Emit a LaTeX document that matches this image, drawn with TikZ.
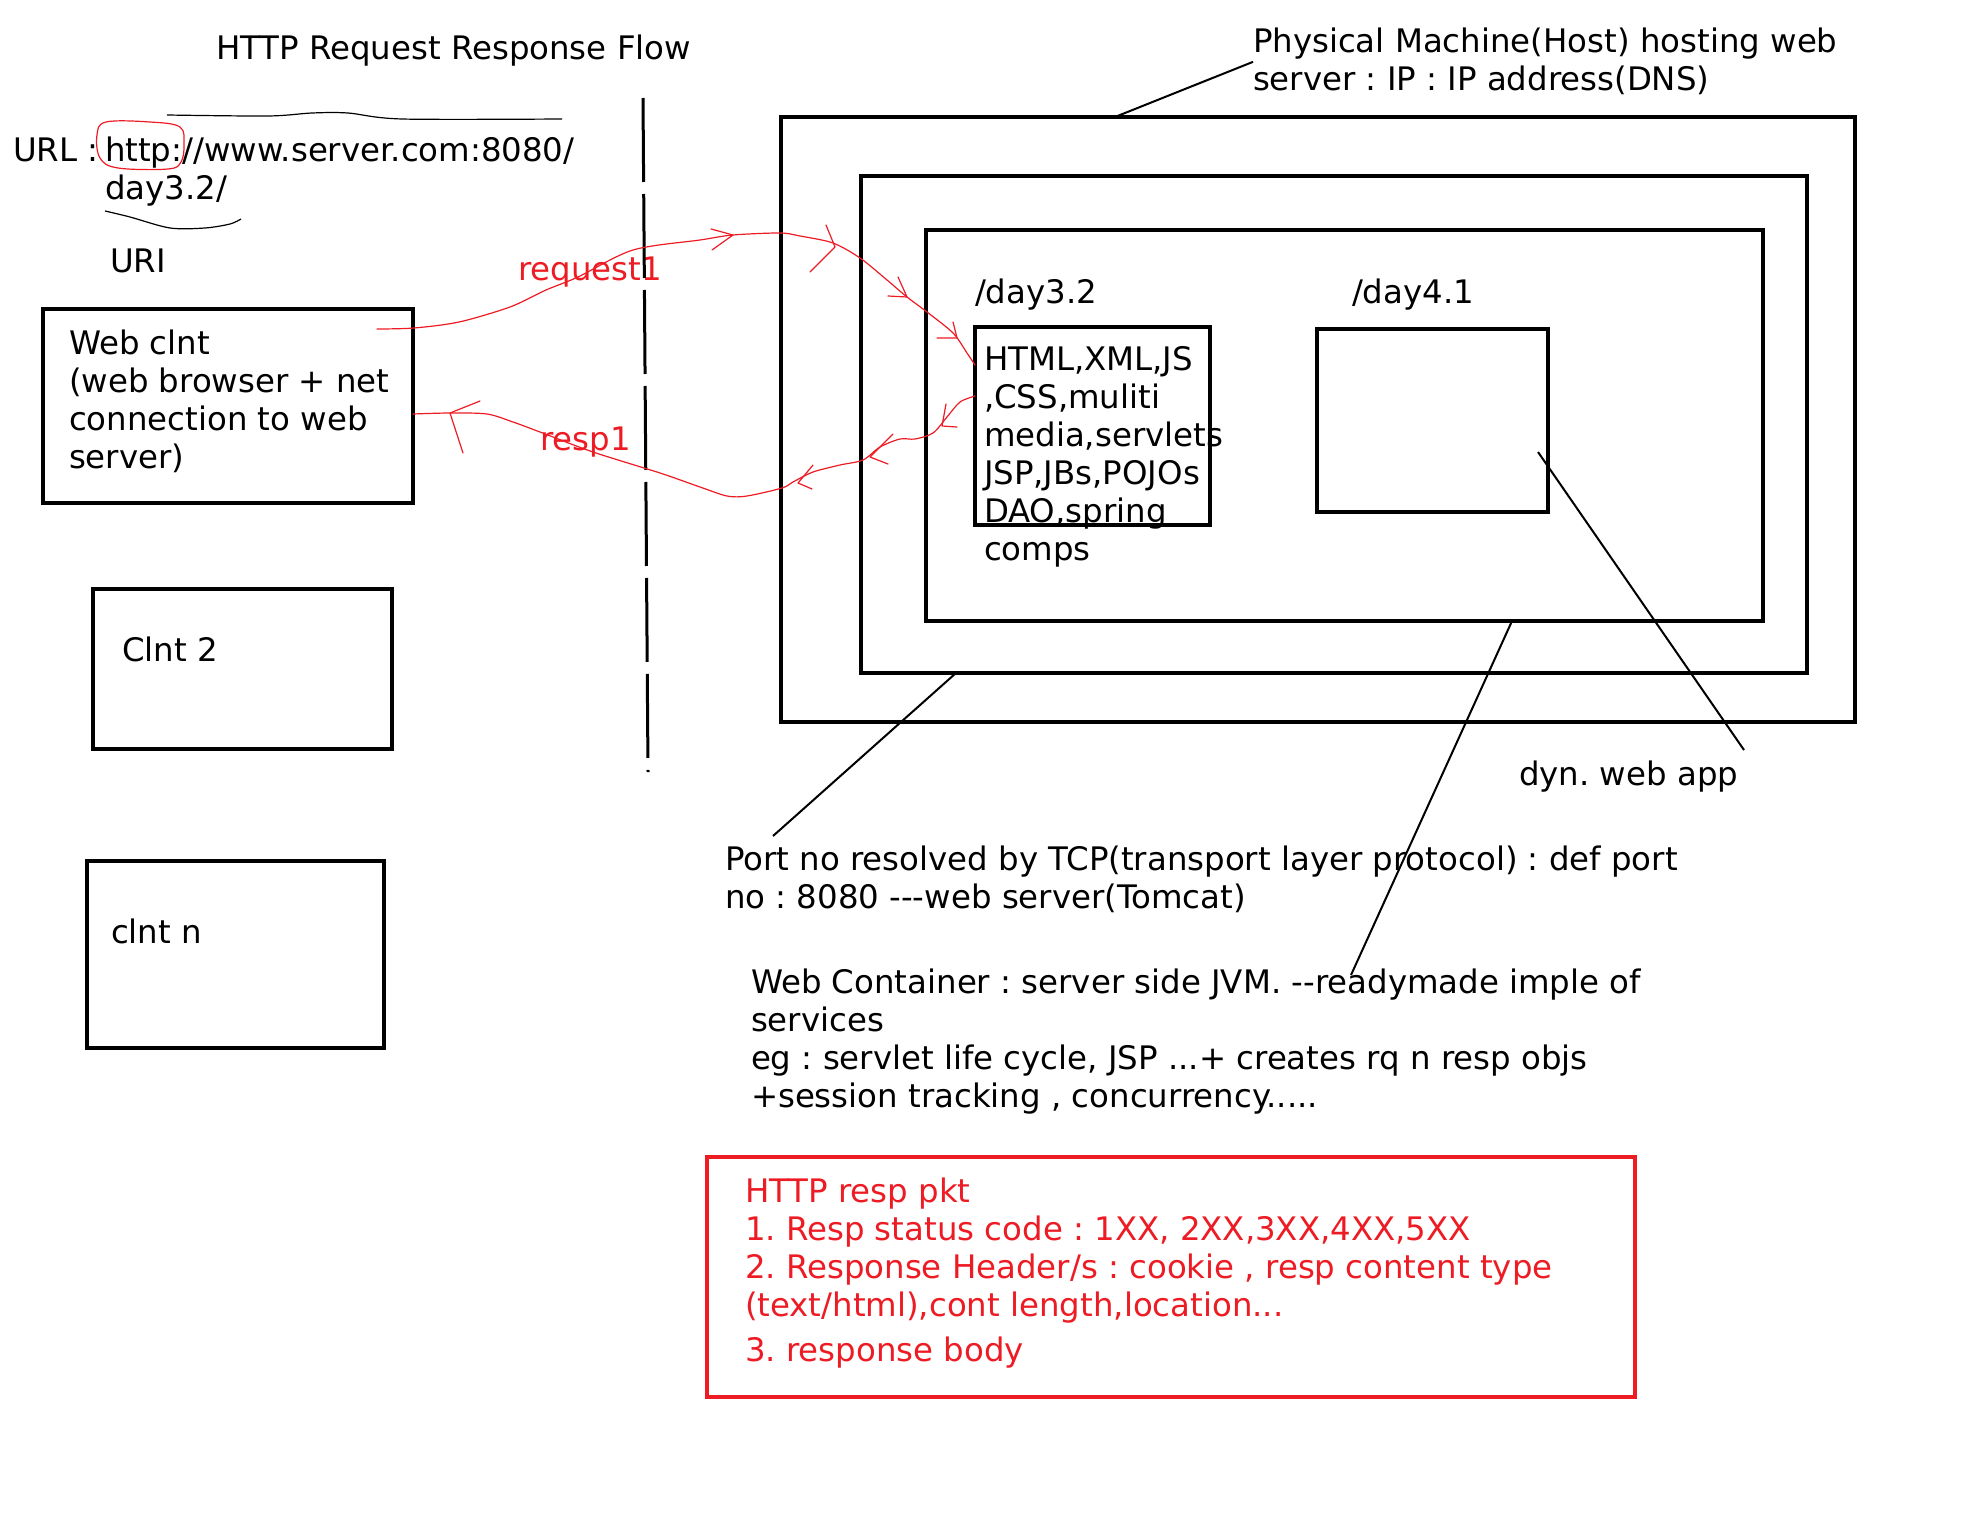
\documentclass[tikz,border=0pt]{standalone}
\usepackage{fontspec}
\setmainfont{DejaVu Sans}
\usetikzlibrary{calc}
\definecolor{pred}{RGB}{237,28,36}
\frenchspacing
\begin{document}
\begin{tikzpicture}[x=0.5pt,y=-0.5pt,
  every node/.style={font=\fontsize{16.2}{19}\selectfont, inner sep=0pt, outer sep=0pt},
  txt/.style={anchor=base west},
  rtxt/.style={anchor=base west, text=pred},
  frame/.style={draw, line width=1.6pt, rectangle},
  rframe/.style={draw=pred, line width=1.6pt, rectangle},
  lead/.style={draw, line width=1pt},
  redline/.style={draw=pred, line width=0.6pt, line join=round, line cap=round},
  sketch/.style={draw, line width=0.6pt},
]
\path[use as bounding box] (0,0) rectangle (1968,1536);

% boxes
\node[frame, minimum width=537pt, minimum height=302.5pt] (outer) at (1318,419.5) {};
\node[frame, minimum width=473pt, minimum height=248.5pt] (middle) at (1334,424.5) {};
\node[frame, minimum width=418.5pt, minimum height=195.5pt] (inner) at (1344.5,425.5) {};
\node[frame, minimum width=117.5pt, minimum height=99pt] (day32) at (1092.5,426) {};
\node[frame, minimum width=115.5pt, minimum height=91.5pt] (day41) at (1432.5,420.5) {};
\node[frame, minimum width=185pt, minimum height=97pt] (webclnt) at (228,406) {};
\node[frame, minimum width=149.5pt, minimum height=80pt] (clnt2) at (242.5,669) {};
\node[frame, minimum width=148.5pt, minimum height=93.5pt] (clntn) at (235.5,954.5) {};
\node[rframe, minimum width=464pt, minimum height=120pt] (pktbox) at (1171,1277) {};

% texts
\node[txt] (title) at (216,60) {HTTP Request Response Flow};
\node[txt] (phys) at (1253,53) {\vtop{\hbox{Physical Machine(Host) hosting web}\hbox{server : IP : IP address(DNS)}}};
\node[txt] (urllbl) at (13,162) {URL :};
\node[txt] (url) at (105,162) {\vtop{\hbox{http://www.server.com:8080/}\hbox{day3.2/}}};
\node[txt] (uri) at (110,272) {URI};
\node[txt] (webtxt) at (69,354) {\vtop{\hbox{Web clnt}\hbox{(web browser + net}\hbox{connection to web}\hbox{server)}}};
\node[txt] (c2txt) at (122,661) {Clnt 2};
\node[txt] (cntxt) at (111,943) {clnt n};
\node[rtxt] (reqlbl) at (518,280) {request1};
\node[rtxt] (resplbl) at (540,450) {resp1};
\node[txt] (d32lbl) at (975,303) {/day3.2};
\node[txt] (d41lbl) at (1352,303) {/day4.1};
\node[txt] (d32txt) at (984,370) {\vtop{\hbox{HTML,XML,JS}\hbox{,CSS,muliti}\hbox{media,servlets}\hbox{JSP,JBs,POJOs}\hbox{DAO,spring}\hbox{comps}}};
\node[txt] (dyn) at (1519,785) {dyn. web app};
\node[txt] (port) at (725,870) {\vtop{\hbox{Port no resolved by TCP(transport layer protocol) : def port}\hbox{no : 8080 -\kern0pt-\kern0pt-web server(Tomcat)}}};
\node[txt] (wc) at (751,993) {\vtop{\hbox{Web Container : server side JVM. -\kern0pt-readymade imple of}\hbox{services}\hbox{eg : servlet life cycle, JSP ...+ creates rq n resp objs}\hbox{+session tracking , concurrency.....}}};
\node[rtxt] (pkt) at (745,1202) {\vtop{\hbox{HTTP resp pkt}\hbox{1. Resp status code : 1XX, 2XX,3XX,4XX,5XX}\hbox{2. Response Header/s : cookie , resp content type}\hbox{(text/html),cont length,location...}\vskip3.5pt\hbox{3. response body}}};

% leader lines
\draw[lead] (phys.west) -- ([xshift=167pt]outer.north west);
\coordinate (portend) at (773,836);
\draw[lead] ([xshift=47.5pt]middle.south west) -- (portend);
\coordinate (wcend) at (1351,975);
\draw[lead] ([xshift=293pt]inner.south west) -- (wcend);
\coordinate (dynend) at (1744,750);
\draw[lead] ([xshift=-5pt,yshift=-15.75pt]day41.east) -- (dynend);

% dashed separator
\coordinate (sepT) at (643,98);
\coordinate (sepB) at (648,772);
\draw[line width=1.5pt, dash pattern=on 42pt off 6pt] (sepT) -- (sepB);

% URL sketch marks
\draw[redline] plot[smooth cycle, tension=0.6] coordinates {(106,122) (150,122) (180,127) (184,145) (181,162) (168,169) (118,168) (100,158) (97,135)};
\draw[sketch] plot[smooth, tension=0.5] coordinates {(167,115) (268,116) (312,113) (348,113) (402,119) (562,119)};
\draw[sketch] plot[smooth, tension=0.5] coordinates {(105,211) (130,217) (170,228) (205,228) (230,224) (241,219)};

% request curve
\coordinate (reqS) at ([xshift=-18pt,yshift=-10pt]webclnt.north east);
\coordinate (reqE) at ([yshift=-19pt]day32.north west);
\draw[redline] plot[smooth, tension=0.5] coordinates {(reqS) (414,328) (459,322) (510,307) (546,290) (578,277) (633,250) (700,240) (733,235) (780,233) (800,236) (833,243) (860,258) (887,280) (907,297) (927,312) (953,333) (967,353) (reqE)};
\draw[redline] (711,229) -- (733,235) -- (712,250);
\draw[redline] (826,225) -- (835,247) -- (810,272);
\draw[redline] (898,277) -- (907,297) -- (888,296);
\draw[redline] (953,322) -- (957,338) -- (937,338);

% response curve
\coordinate (respS) at ([yshift=-34.5pt]day32.north west);
\coordinate (respE) at ([yshift=-4pt]webclnt.east);
\draw[redline] plot[smooth, tension=0.5] coordinates {(respS) (960,402) (947,417) (933,433) (915,439) (900,439) (880,447) (863,460) (840,465) (813,472) (793,482) (782,488) (747,496) (727,496) (700,487) (660,473) (593,452) (540,432) (513,422) (487,414) (450,413) (respE)};
\draw[redline] (946,404) -- (942,426) -- (957,427);
\draw[redline] (893,434) -- (870,457) -- (888,464);
\draw[redline] (813,465) -- (798,483) -- (812,489);
\draw[redline] (480,401) -- (450,413) -- (463,453);
\end{tikzpicture}
\end{document}
